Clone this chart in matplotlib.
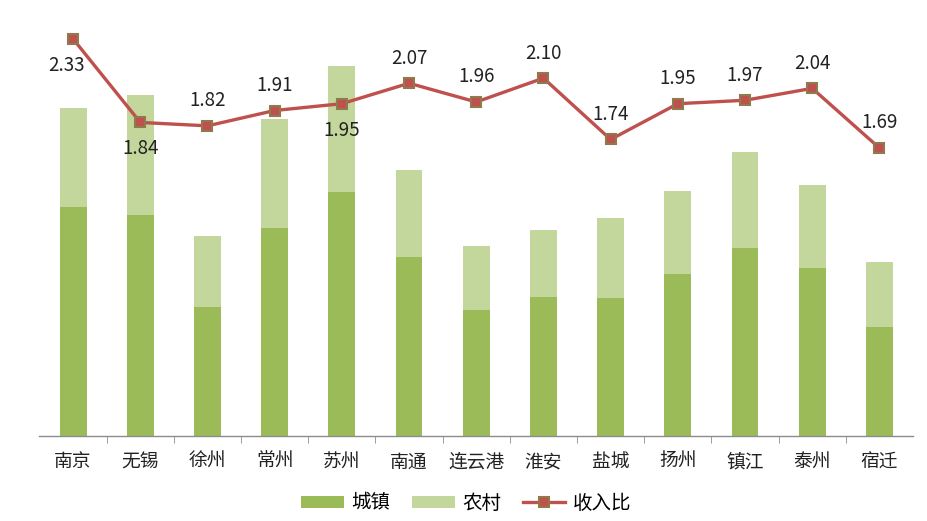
import matplotlib
matplotlib.use("Agg")
import matplotlib.pyplot as plt
import numpy as np

plt.rcParams['font.family'] = ['Noto Sans CJK SC', 'DejaVu Sans']

cities = ["南京", "无锡", "徐州", "常州", "苏州", "南通", "连云港", "淮安", "盐城", "扬州", "镇江", "泰州", "宿迁"]
urban = [42600, 41000, 24000, 38700, 45400, 33300, 23400, 25900, 25700, 30100, 35000, 31250, 20300]
rural = [18260, 22300, 13200, 20250, 23300, 16100, 11950, 12330, 14770, 15440, 17770, 15320, 12010]
ratio = [2.33, 1.84, 1.82, 1.91, 1.95, 2.07, 1.96, 2.10, 1.74, 1.95, 1.97, 2.04, 1.69]
# label above (+1) or below (-1) the point
label_side = [-1, -1, 1, 1, -1, 1, 1, 1, 1, 1, 1, 1, 1]

dark = "#9BBB59"
light = "#C3D69B"
red = "#C0504D"

fig = plt.figure(figsize=(9.27, 5.21), dpi=100)
ax = fig.add_axes([39.5 / 927, 1 - 436 / 521, (913 - 39.5) / 927, (436 - 27) / 521])
x = np.arange(len(cities))

b1 = ax.bar(x, urban, width=0.4, color=dark, label="城镇")
b2 = ax.bar(x, rural, width=0.4, bottom=urban, color=light, label="农村")
ax.set_xlim(-0.5, len(cities) - 0.5)
ax.set_ylim(0, 76000)
ax.set_yticks([])
for s in ["top", "left", "right"]:
    ax.spines[s].set_visible(False)
ax.spines["bottom"].set_color("#8c8c8c")
ax.spines["bottom"].set_linewidth(1)
ax.set_xticks(x)
ax.set_xticklabels(cities, fontsize=13.5, color="#222222")
ax.tick_params(axis="x", which="major", length=0, pad=11)
ax.set_xticks(np.arange(0.5, len(cities) - 1, 1), minor=True)
ax.tick_params(axis="x", which="minor", length=5, color="#8c8c8c", direction="out")

ax2 = ax.twinx()
ax2.set_ylim(0, 2.4)
ax2.set_yticks([])
for s in ["top", "left", "right", "bottom"]:
    ax2.spines[s].set_visible(False)
ln, = ax2.plot(x, ratio, color=red, lw=2.4, marker="s", markersize=7,
               markerfacecolor=red, markeredgecolor="#8F7A4E", markeredgewidth=1.5,
               label="收入比")
for i, (xi, r) in enumerate(zip(x, ratio)):
    dx = -5 if i == 0 else 0
    dy = 18 if label_side[i] > 0 else -19
    ax2.annotate(f"{r:.2f}", (xi, r), xytext=(dx, dy), textcoords="offset points",
                 ha="center", va="center", fontsize=13.5, color="#222222")

fig.legend(handles=[b1, b2, ln], loc="center", bbox_to_anchor=(0.503, 0.034), ncol=3,
           frameon=False, fontsize=14, handlelength=2.2, handleheight=0.55,
           columnspacing=1.1, handletextpad=0.4)

fig.savefig("out.png", dpi=100)
